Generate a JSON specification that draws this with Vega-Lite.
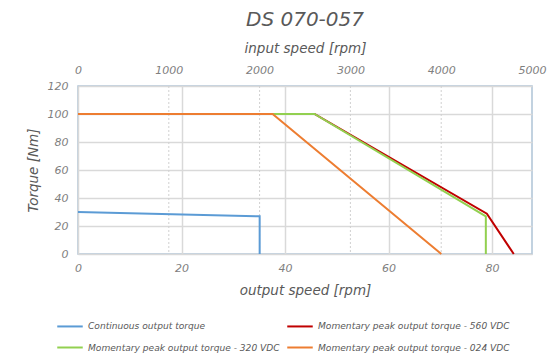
{
  "$schema": "https://vega.github.io/schema/vega-lite/v6.json",
  "width": 454,
  "height": 168,
  "autosize": {"type": "none"},
  "padding": {"left": 78, "top": 86, "right": 15, "bottom": 100},
  "background": "white",
  "config": {
    "font": "DejaVu Sans",
    "view": {"stroke": "#AFC3D6", "strokeWidth": 1.5},
    "axis": {
      "labelFont": "DejaVu Sans", "labelFontStyle": "italic", "labelColor": "#7F7F7F", "labelFontSize": 11,
      "titleFont": "DejaVu Sans", "titleFontStyle": "italic", "titleFontWeight": "normal", "titleColor": "#595959", "titleFontSize": 13.5,
      "domain": false, "ticks": false,
      "gridColor": "#D9D9D9", "gridWidth": 1.5
    }
  },
  "title": {
    "text": "DS 070-057",
    "font": "DejaVu Sans", "fontStyle": "italic", "fontWeight": "normal", "fontSize": 20, "color": "#595959",
    "anchor": "middle", "offset": 11
  },
  "resolve": {"scale": {"x": "independent"}, "axis": {"x": "independent"}},
  "layer": [
    {
      "data": {"values": [{"rpm": 1000}, {"rpm": 2000}, {"rpm": 3000}, {"rpm": 4000}]},
      "mark": {"type": "rule", "color": "#D0D0D0", "strokeDash": [2, 2], "strokeWidth": 1},
      "encoding": {
        "x": {
          "field": "rpm", "type": "quantitative",
          "scale": {"domain": [0, 5000], "nice": false, "zero": false},
          "axis": {"orient": "top", "title": "input speed [rpm]", "format": "d", "values": [0, 1000, 2000, 3000, 4000, 5000], "grid": false, "labelPadding": 11, "titlePadding": 9, "labelFlush": false}
        }
      }
    },
    {
      "data": {"values": [
        {"series": "Continuous output torque", "i": 0, "speed": 0, "torque": 30},
        {"series": "Continuous output torque", "i": 1, "speed": 35.1, "torque": 26.9},
        {"series": "Continuous output torque", "i": 2, "speed": 35.1, "torque": 0},
        {"series": "Momentary peak output torque - 560 VDC", "i": 0, "speed": 0, "torque": 100},
        {"series": "Momentary peak output torque - 560 VDC", "i": 1, "speed": 45.7, "torque": 100},
        {"series": "Momentary peak output torque - 560 VDC", "i": 2, "speed": 79.0, "torque": 28.8},
        {"series": "Momentary peak output torque - 560 VDC", "i": 3, "speed": 84.2, "torque": 0},
        {"series": "Momentary peak output torque - 320 VDC", "i": 0, "speed": 0, "torque": 100},
        {"series": "Momentary peak output torque - 320 VDC", "i": 1, "speed": 45.7, "torque": 100},
        {"series": "Momentary peak output torque - 320 VDC", "i": 2, "speed": 78.8, "torque": 26.9},
        {"series": "Momentary peak output torque - 320 VDC", "i": 3, "speed": 78.8, "torque": 0},
        {"series": "Momentary peak output torque - 024 VDC", "i": 0, "speed": 0, "torque": 100},
        {"series": "Momentary peak output torque - 024 VDC", "i": 1, "speed": 37.6, "torque": 100},
        {"series": "Momentary peak output torque - 024 VDC", "i": 2, "speed": 70.2, "torque": 0}
      ]},
      "mark": {"type": "line", "strokeWidth": 2, "clip": false},
      "encoding": {
        "x": {
          "field": "speed", "type": "quantitative",
          "scale": {"domain": [0, 87.72], "nice": false, "zero": false},
          "axis": {"orient": "bottom", "title": "output speed [rpm]", "values": [0, 20, 40, 60, 80], "grid": true, "labelPadding": 8, "titlePadding": 10, "labelFlush": false}
        },
        "y": {
          "field": "torque", "type": "quantitative",
          "scale": {"domain": [0, 120], "nice": false},
          "axis": {"title": "Torque [Nm]", "values": [0, 20, 40, 60, 80, 100, 120], "grid": true, "labelPadding": 10, "titlePadding": 7}
        },
        "color": {
          "field": "series", "type": "nominal",
          "sort": ["Continuous output torque", "Momentary peak output torque - 560 VDC", "Momentary peak output torque - 320 VDC", "Momentary peak output torque - 024 VDC"],
          "scale": {
            "domain": ["Continuous output torque", "Momentary peak output torque - 560 VDC", "Momentary peak output torque - 320 VDC", "Momentary peak output torque - 024 VDC"],
            "range": ["#5B9BD5", "#C00000", "#92D050", "#ED7D31"]
          },
          "legend": {
            "title": null, "orient": "none", "legendX": -22, "legendY": 226, "columns": 2, "direction": "horizontal",
            "symbolType": "stroke", "symbolSize": 650, "symbolStrokeWidth": 2,
            "labelFont": "DejaVu Sans", "labelFontStyle": "italic", "labelFontSize": 9.1, "labelColor": "#595959", "labelLimit": 300,
            "labelOffset": 4, "columnPadding": 3, "rowPadding": 1.5
          }
        },
        "order": {"field": "i", "type": "quantitative"}
      }
    }
  ]
}
